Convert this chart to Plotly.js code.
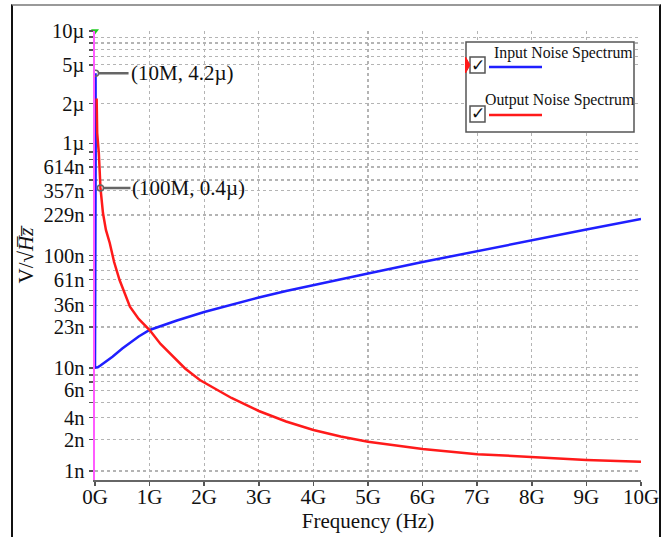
<!DOCTYPE html>
<html>
<head>
<meta charset="utf-8">
<script src="https://cdn.plot.ly/plotly-3.0.1.min.js"></script>
<style>
  html, body { margin: 0; padding: 0; background: #fff; }
  #chart { position: absolute; left: 0; top: 0; width: 667px; height: 537px; }
  #frame { position: absolute; left: 11px; top: 4px; width: 646px; height: 560px;
           border: 2px solid #111; border-top-color: #999; pointer-events: none; }
</style>
</head>
<body>
<div id="chart"></div>
<div id="frame"></div>
<script>
// ---- data (frequency in Hz, noise in V/sqrt(Hz)) ----
const inputFreqHz = [1e7, 1.3e7, 0, 5e7, 1e8, 2e8, 3.2e8, 5e8, 6.4e8, 8e8, 1e9, 1.5e9, 2e9, 2.5e9, 3e9, 3.5e9, 4e9, 5e9, 6e9, 7e9, 8e9, 9e9, 1e10];
const inputNoise  = [4.2e-6, 1.2e-6, 1.0e-8, 1.008e-8, 1.047e-8, 1.137e-8, 1.254e-8, 1.484e-8, 1.661e-8, 1.898e-8, 2.169e-8, 2.636e-8, 3.139e-8, 3.66e-8, 4.224e-8, 4.828e-8, 5.459e-8, 6.911e-8, 8.75e-8, 1.096e-7, 1.374e-7, 1.705e-7, 2.114e-7];

const outputFreqHz = [3e7, 4e7, 7e7, 9e7, 1e8, 1.46e8, 2e8, 2.7e8, 3.5e8, 4.5e8, 6.4e8, 8e8, 1e9, 1.2e9, 1.43e9, 1.65e9, 1.92e9, 2e9, 2.5e9, 3e9, 3.5e9, 4e9, 4.5e9, 5e9, 6e9, 7e9, 8e9, 9e9, 1e10];
const outputNoise  = [2.5e-6, 1.234e-6, 8.18e-7, 5.0e-7, 4.0e-7, 2.39e-7, 1.69e-7, 1.292e-7, 8.75e-8, 6.05e-8, 3.5e-8, 2.72e-8, 2.169e-8, 1.628e-8, 1.254e-8, 9.85e-9, 7.78e-9, 7.39e-9, 5.377e-9, 4.118e-9, 3.32e-9, 2.79e-9, 2.44e-9, 2.19e-9, 1.89e-9, 1.70e-9, 1.59e-9, 1.51e-9, 1.455e-9];

const cursorFreqHz = [1e7, 1e8];
const cursorNoise  = [4.2e-6, 4e-7];
const cursorLabels = ["(10M, 4.2µ)", "(100M, 0.4µ)"];

const xTickVals = [0, 1e9, 2e9, 3e9, 4e9, 5e9, 6e9, 7e9, 8e9, 9e9, 1e10];
const xTickText = ["0G","1G","2G","3G","4G","5G","6G","7G","8G","9G","10G"];

const yTickVals = [1e-5, 5e-6, 2.25e-6, 1e-6, 6.14e-7, 3.8e-7, 2.29e-7, 1e-7, 6.1e-8, 3.6e-8, 2.3e-8, 1e-8, 6.3e-9, 3.6e-9, 2.3e-9, 1.2e-9];
const yTickText = ["10µ","5µ","2µ","1µ","614n","357n","229n","100n","61n","36n","23n","10n","6n","4n","2n","1n"];
const yMinorVals = [8.8e-6, 7.8e-6, 6.8e-6, 5.9e-6, 8.4e-7, 7.2e-7, 4.7e-7, 9e-8, 7.4e-8, 4.9e-8, 8.6e-9, 7.5e-9, 4.9e-9];

const seriesNames = ["Input Noise Spectrum", "Output Noise Spectrum"];
const seriesColors = ["#1f1fff", "#ff1a1a"];

// ---- pixel helpers for overlay legend (paper coords) ----
const L = 95, R = 26, T = 31, B = 57, W = 667, H = 537;
const pw = W - L - R, ph = H - T - B;
const px = v => (v - L) / pw;
const py = v => (H - B - v) / ph;

const serif = "'Liberation Serif', 'Times New Roman', serif";

const traces = [
  { x: inputFreqHz, y: inputNoise, type: "scatter", mode: "lines", name: seriesNames[0],
    line: { color: seriesColors[0], width: 2.5 } },
  { x: outputFreqHz, y: outputNoise, type: "scatter", mode: "lines", name: seriesNames[1],
    line: { color: seriesColors[1], width: 2.5 } },
  { x: cursorFreqHz, y: cursorNoise, type: "scatter", mode: "markers", hoverinfo: "skip",
    marker: { symbol: "circle-open", size: 6, color: "#666", line: { width: 1.5, color: "#666" } } },
  { x: [0], y: [1e-5], type: "scatter", mode: "markers", cliponaxis: false, hoverinfo: "skip",
    marker: { symbol: "triangle-down", size: 7, color: "#22cc22" } }
];

const annotations = cursorLabels.map((t, i) => ({
  x: cursorFreqHz[i], y: Math.log10(cursorNoise[i]), xref: "x", yref: "y",
  text: t, showarrow: true, arrowhead: 0, arrowwidth: 2.5, arrowcolor: "#666",
  ax: i === 0 ? 33 : 30, ay: 0, xanchor: "left", yanchor: "middle", standoff: 3,
  font: { family: serif, size: 21, color: "#111" }
}));

// legend overlay
annotations.push(
  { xref: "paper", yref: "paper", x: px(492), y: py(53), xanchor: "left", yanchor: "middle",
    text: seriesNames[0], showarrow: false, font: { family: serif, size: 15.8, color: "#111" } },
  { xref: "paper", yref: "paper", x: px(483), y: py(100), xanchor: "left", yanchor: "middle",
    text: seriesNames[1], showarrow: false, font: { family: serif, size: 15.8, color: "#111" } },
  { xref: "paper", yref: "paper", x: px(478), y: py(65), xanchor: "center", yanchor: "middle",
    text: "✓", showarrow: false, font: { family: "DejaVu Sans", size: 17, color: "#111" } },
  { xref: "paper", yref: "paper", x: px(478), y: py(113.5), xanchor: "center", yanchor: "middle",
    text: "✓", showarrow: false, font: { family: "DejaVu Sans", size: 17, color: "#111" } }
);

const shapes = [
  { type: "rect", xref: "paper", yref: "paper", x0: px(466), x1: px(634), y0: py(132), y1: py(42),
    line: { color: "#555", width: 1.5 }, fillcolor: "#fff", layer: "above" },
  { type: "rect", xref: "paper", yref: "paper", x0: px(470), x1: px(485), y0: py(73), y1: py(57),
    line: { color: "#555", width: 1.5 }, fillcolor: "rgba(0,0,0,0)", layer: "above" },
  { type: "rect", xref: "paper", yref: "paper", x0: px(470), x1: px(485), y0: py(122), y1: py(106),
    line: { color: "#555", width: 1.5 }, fillcolor: "rgba(0,0,0,0)", layer: "above" },
  { type: "line", xref: "paper", yref: "paper", x0: px(489), x1: px(542), y0: py(67), y1: py(67),
    line: { color: seriesColors[0], width: 2.5 }, layer: "above" },
  { type: "line", xref: "paper", yref: "paper", x0: px(489), x1: px(542), y0: py(115), y1: py(115),
    line: { color: seriesColors[1], width: 2.5 }, layer: "above" },
  { type: "path", xref: "paper", yref: "paper",
    path: `M ${px(465.5)} ${py(57)} L ${px(470)} ${py(65)} L ${px(465.5)} ${py(73)} Z`,
    fillcolor: "#ff1a1a", line: { color: "#ff1a1a", width: 1 }, layer: "above" }
];

const gridC = "#b4b4b4";

const layout = {
  width: W, height: H,
  margin: { l: L, r: R, t: T, b: B, pad: 0 },
  paper_bgcolor: "#fff", plot_bgcolor: "#fff",
  showlegend: false,
  font: { family: serif, size: 21, color: "#111" },
  xaxis: {
    type: "linear", range: [0, 1e10], autorange: false,
    tickmode: "array", tickvals: xTickVals, ticktext: xTickText,
    showgrid: true, gridcolor: gridC, gridwidth: 1.3, griddash: "dot",
    zeroline: false, showline: true, linecolor: "#666", linewidth: 2,
    ticks: "outside", ticklen: 4, tickwidth: 1.5, tickcolor: "#555",
    ticklabelstandoff: -7,
    tickfont: { family: serif, size: 21, color: "#111" },
    title: { text: "Frequency (Hz)", font: { family: serif, size: 21, color: "#111" }, standoff: 2 }
  },
  yaxis: {
    type: "log", range: [-9, -5], autorange: false,
    tickmode: "array", tickvals: yTickVals, ticktext: yTickText,
    showgrid: true, gridcolor: gridC, gridwidth: 1.3, griddash: "dot",
    zeroline: false, showline: true, linecolor: "#ff5cff", linewidth: 2.5,
    ticks: "outside", ticklen: 4, tickwidth: 1.5, tickcolor: "#555",
    tickfont: { family: serif, size: 20.5, color: "#111" },
    minor: { tickmode: "array", tickvals: yMinorVals, showgrid: true, gridcolor: gridC,
             gridwidth: 1.3, griddash: "dot", ticks: "outside", ticklen: 4, tickcolor: "#555", tickwidth: 1.5 },
    title: { text: "V/√<i>H\u0305z\u0305</i>",
             font: { family: serif, size: 21, color: "#111" }, standoff: 4 }
  },
  annotations: annotations,
  shapes: shapes
};

Plotly.newPlot("chart", traces, layout, { displayModeBar: false, staticPlot: true });
</script>
</body>
</html>
